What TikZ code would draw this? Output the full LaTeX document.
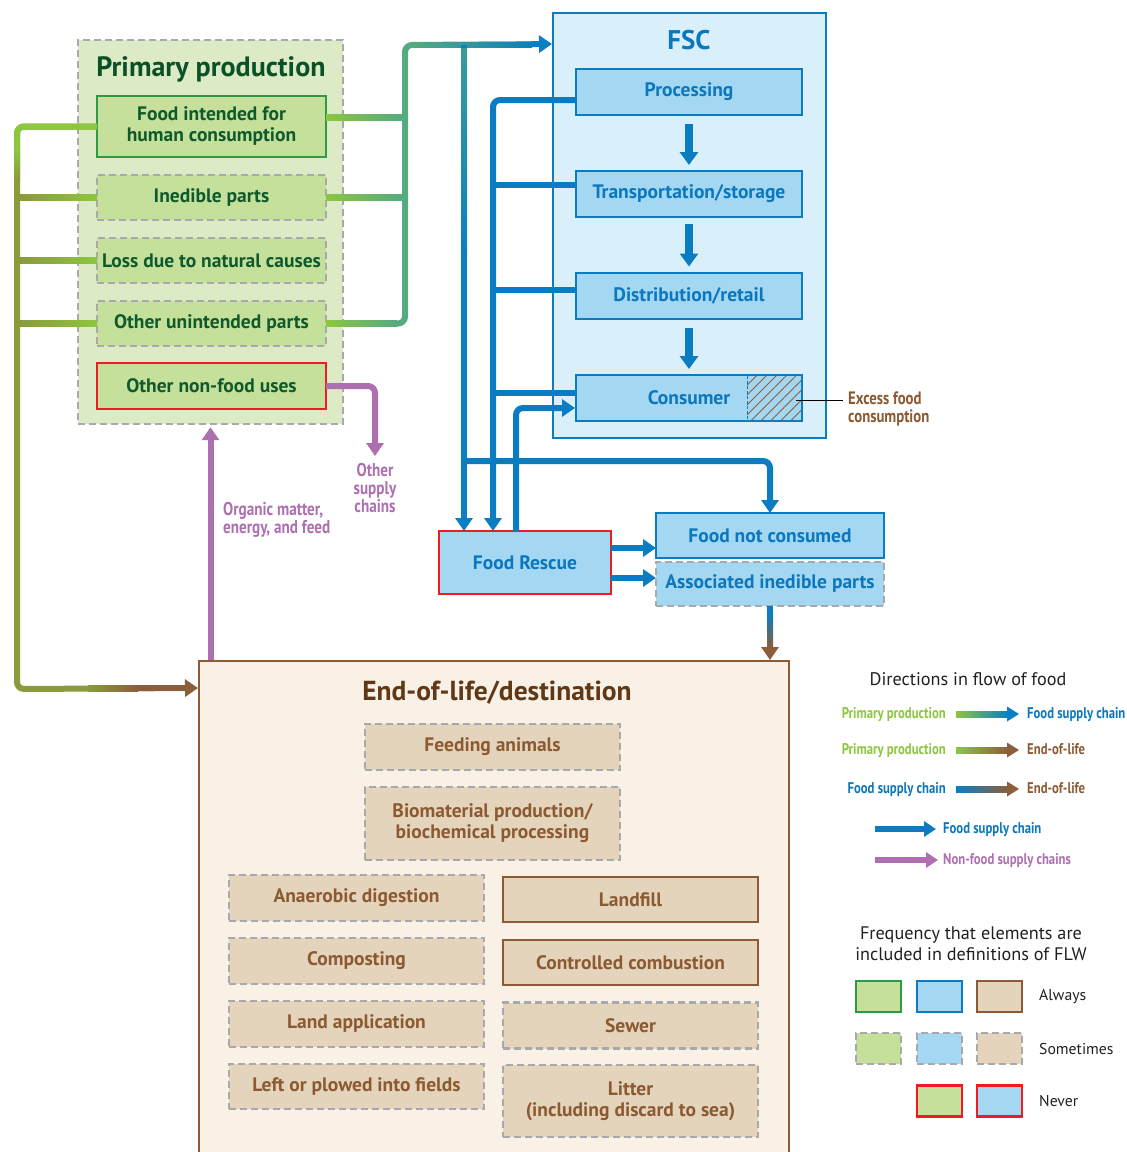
\documentclass[tikz,border=0pt]{standalone}
\usepackage{fontspec}
\setmainfont{PT Sans}
\newfontfamily\condf[FakeStretch=0.82]{PT Sans}
\usetikzlibrary{arrows.meta,calc,patterns.meta}
\definecolor{ppfill}{HTML}{DCEBC6}
\definecolor{ppinner}{HTML}{C5E09B}
\definecolor{ppdark}{HTML}{0E5A2C}
\definecolor{pptitle}{HTML}{0B5128}
\definecolor{grborder}{HTML}{2E9A46}
\definecolor{dgray}{HTML}{A7A9AC}
\definecolor{redc}{HTML}{ED1C24}
\definecolor{fscfill}{HTML}{D9F0FB}
\definecolor{fscinner}{HTML}{A3D7F2}
\definecolor{fscblue}{HTML}{0A7DC2}
\definecolor{fsctext}{HTML}{0A77BE}
\definecolor{eolfill}{HTML}{FAF1E6}
\definecolor{eolinner}{HTML}{E5D4BC}
\definecolor{eolborder}{HTML}{8C5B35}
\definecolor{eoltext}{HTML}{8B5A32}
\definecolor{eoltitle}{HTML}{5F3917}
\definecolor{lgreen}{HTML}{8DC63F}
\definecolor{olive}{HTML}{8A9A3C}
\definecolor{lbrown}{HTML}{8B5E3C}
\definecolor{sgreen}{HTML}{55AA80}
\definecolor{tealc}{HTML}{3A9C97}
\definecolor{flblue}{HTML}{0A7FC3}
\definecolor{purp}{HTML}{AD6FB0}
\definecolor{dtext}{HTML}{231F20}
\newcommand\legarr[4]{%
  \shade[left color=#3, right color=#4] ($(#1)+(0,-3)$) rectangle ($(#2)+(-11,3)$);
  \fill[#4] ($(#2)+(-12,-7.5)$) -- (#2) -- ($(#2)+(-12,7.5)$) -- cycle;}
\tikzset{
  lbl/.style={font=\bfseries\fontsize{19.5}{21}\selectfont, align=center, inner sep=0pt, outer sep=0pt},
  always/.style={draw=#1, line width=2pt},
  sometimes/.style={draw=dgray, line width=2.4pt, dash pattern=on 7pt off 4pt},
  never/.style={draw=redc, line width=2.4pt},
  ppb/.style={lbl, fill=ppinner, text=ppdark, minimum width=229pt, minimum height=45pt},
  fscb/.style={lbl, fill=fscinner, text=fsctext, minimum width=226pt, minimum height=46pt},
  eolb/.style={lbl, fill=eolinner, text=eoltext, minimum width=255pt, minimum height=46pt},
  flow/.style={line width=6pt},
  arr/.style={-{Triangle[length=13pt,width=17pt]}},
  arrc/.style={-{Triangle[length=13pt,width=17pt,color=#1]}},
  cond/.style={font=\condf\bfseries\fontsize{18.5}{18}\selectfont, inner sep=0pt},
  legl/.style={font=\condf\bfseries\fontsize{15.5}{18}\selectfont, inner sep=0pt, text height=11pt, text depth=3pt},
  legt/.style={font=\fontsize{18.2}{21}\selectfont, text=dtext, align=center, inner sep=0pt},
  legbox/.style={minimum width=45pt, minimum height=31pt, inner sep=0pt},
}
\begin{document}
\begin{tikzpicture}[x=1pt,y=-1pt]
\useasboundingbox (0,0) rectangle (1127,1152);
\clip (0,0) rectangle (1127,1152);

% ---------- Primary production ----------
\node[fill=ppfill, sometimes, minimum width=265pt, minimum height=384pt, inner sep=0pt] (pp) at (210.5,232) {};
\node[font=\bfseries\fontsize{28}{30}\selectfont, text=pptitle, inner sep=0pt] (pptitle) at (211,69) {Primary production};
\node[ppb, always=grborder, minimum height=61pt] (food) at (211.5,126.5) {Food intended for\\human consumption};
\node[ppb, sometimes] (inedible) at (211.5,197.5) {Inedible parts};
\node[ppb, sometimes] (loss) at (211.5,260.5) {Loss due to natural causes};
\node[ppb, sometimes] (otherun) at (211.5,323.5) {Other unintended parts};
\node[ppb, never, minimum height=46pt] (nonfood) at (211.5,386) {Other non-food uses};

% ---------- FSC ----------
\node[fill=fscfill, always=fscblue, minimum width=273pt, minimum height=425pt, inner sep=0pt] (fsc) at (689.5,225.5) {};
\node[font=\bfseries\fontsize{27}{30}\selectfont, text=fsctext, inner sep=0pt] (fsctitle) at (689,40) {FSC};
\node[fscb, always=fscblue] (proc) at (689,92) {Processing};
\node[fscb, always=fscblue] (trans) at (689,194) {Transportation/storage};
\node[fscb, always=fscblue] (dist) at (689,295.5) {Distribution/retail};
\node[fscb, always=fscblue] (cons) at (689,398) {Consumer};
\fill[pattern={Lines[angle=45,distance=7pt,line width=0.9pt]}, pattern color=lbrown]
  ($(cons.north east)+(-55,1)$) rectangle ($(cons.south east)+(-1,-1)$);
\draw[fscblue, line width=1pt, dash pattern=on 3pt off 2pt] ($(cons.north east)+(-55,1)$) -- ($(cons.south east)+(-55,-1)$);
\draw[line width=8pt, fscblue, -{Triangle[length=13pt,width=18pt]}] ($(proc.south)+(0,9)$) -- ($(trans.north)+(0,-6)$);
\draw[line width=8pt, fscblue, -{Triangle[length=13pt,width=18pt]}] ($(trans.south)+(0,7)$) -- ($(dist.north)+(0,-6)$);
\draw[line width=8pt, fscblue, -{Triangle[length=13pt,width=18pt]}] ($(dist.south)+(0,9)$) -- ($(cons.north)+(0,-6)$);
\coordinate (exc) at ($(cons.east)+(41,2)$);
\draw[black, line width=0.8pt] ($(cons.east)+(-6,2)$) -- (exc);
\node[cond, text=eoltext, align=left, anchor=west, font=\condf\bfseries\fontsize{18}{18}\selectfont] (excess) at ($(exc)+(5,9)$) {Excess food\\consumption};

% ---------- Food rescue etc ----------
\node[lbl, fill=fscinner, text=fsctext, never, minimum width=172pt, minimum height=63pt] (rescue) at (525,562.5) {Food Rescue};
\node[lbl, fill=fscinner, text=fsctext, always=fscblue, minimum width=228pt, minimum height=45pt] (notcons) at (770,535.5) {Food not consumed};
\node[lbl, fill=fscinner, text=fsctext, sometimes, minimum width=228pt, minimum height=44pt] (assoc) at (770,584) {Associated inedible parts};

% ---------- End-of-life ----------
\node[fill=eolfill, always=eolborder, minimum width=590pt, minimum height=500pt, inner sep=0pt] (eol) at (494,911) {};
\node[font=\bfseries\fontsize{27.5}{30}\selectfont, text=eoltitle, inner sep=0pt] (eoltitle) at (497,693) {End-of-life/destination};
\node[eolb, sometimes] (feed) at (492.5,747) {Feeding animals};
\node[eolb, sometimes, minimum height=73pt] (bio) at (492.5,823.5) {Biomaterial production/\\biochemical processing};
\node[eolb, sometimes] (anaer) at (356.5,898) {Anaerobic digestion};
\node[eolb, always=eolborder, minimum height=45pt] (landfill) at (630.5,899.5) {Landfill};
\node[eolb, sometimes] (compost) at (356.5,961) {Composting};
\node[eolb, always=eolborder, minimum height=45pt] (combust) at (630.5,962.5) {Controlled combustion};
\node[eolb, sometimes] (landapp) at (356.5,1024) {Land application};
\node[eolb, sometimes] (sewer) at (630.5,1025.5) {Sewer};
\node[eolb, sometimes, minimum height=45pt] (leftf) at (356.5,1086.5) {Left or plowed into fields};
\node[eolb, sometimes, minimum height=72pt] (litter) at (630.5,1101) {Litter\\(including discard to sea)};

% ---------- Left bus (primary production -> end-of-life) ----------
\coordinate (LT) at (17,126.5);
\coordinate (LB) at (17,689);
\coordinate (eolin) at ($(eol.north west)+(0,28)$);
\draw[flow, olive, rounded corners=7pt, arrc=lbrown] (food.west) -- (LT) -- (LB) -- (eolin);
\draw[flow, lgreen, rounded corners=7pt] (food.west) -- (LT) -- (17,150);
\shade[top color=lgreen, bottom color=olive] (14,150) rectangle (20,180);
\foreach \b in {inedible, loss, otherun}
  \shade[left color=olive, right color=lgreen] ($(LT |- \b.west)+(3,-3)$) rectangle ($(\b.west)+(0,3)$);
\shade[left color=olive, right color=lbrown] ($(eolin)+(-110,-3)$) rectangle ($(eolin)+(-60,3)$);
\fill[lbrown] ($(eolin)+(-60,-3)$) rectangle ($(eolin)+(-12,3)$);

% ---------- Right bus (primary production -> FSC) ----------
\coordinate (RT) at (405,45);
\coordinate (fscin) at ($(fsc.north west)+(0,32)$);
\coordinate (V1) at (464,45);
\draw[flow, sgreen, rounded corners=7pt, arrc=flblue] (otherun.east) -- (RT |- otherun.east) -- (RT) -- (fscin);
\draw[flow, sgreen] ($(food.east)+(0,-9.5)$) -- ($(RT |- food.east)+(0,-9.5)$);
\draw[flow, sgreen] (inedible.east) -- (RT |- inedible.east);
\shade[left color=lgreen, right color=sgreen] ($(food.east)+(0,-12.5)$) rectangle ($(RT |- food.east)+(-3,-6.5)$);
\shade[left color=lgreen, right color=sgreen] ($(inedible.east)+(0,-3)$) rectangle ($(RT |- inedible.east)+(-3,3)$);
\shade[left color=lgreen, right color=sgreen] ($(otherun.east)+(0,-3)$) rectangle ($(RT |- otherun.east)+(-8,3)$);
\shade[left color=sgreen, right color=flblue] ($(RT)+(7,-3)$) rectangle ($(fscin)+(-20,3)$);
\fill[flblue] ($(fscin)+(-21,-3)$) rectangle ($(fscin)+(-12,3)$);
\draw[flow, flblue, arr] (V1) -- (V1 |- rescue.north);
\shade[top color=tealc, bottom color=flblue] ($(V1)+(-3,3)$) rectangle ($(V1)+(3,210)$);

% ---------- Blue connectors ----------
\coordinate (B1) at (493,100);
\draw[flow, fscblue, rounded corners=7pt, arr] ($(proc.west)+(0,8)$) -- (B1) -- (B1 |- rescue.north);
\draw[flow, fscblue] ($(trans.west)+(0,-9)$) -- ($(B1 |- trans.west)+(0,-9)$);
\draw[flow, fscblue] ($(dist.west)+(0,-5.5)$) -- ($(B1 |- dist.west)+(0,-5.5)$);
\draw[flow, fscblue] ($(cons.west)+(0,-5)$) -- ($(B1 |- cons.west)+(0,-5)$);
\coordinate (R1) at ($(rescue.north west)+(77,0)$);
\draw[flow, fscblue, rounded corners=7pt, arr] (R1) -- ($(R1 |- cons.west)+(0,10)$) -- ($(cons.west)+(-1,10)$);
\coordinate (J) at (464,461);
\draw[flow, fscblue, rounded corners=7pt, arr] (J) -- (J -| notcons.north) -- (notcons.north);
\draw[flow, fscblue, arr] ($(rescue.east)+(0,-14.5)$) -- ($(notcons.west |- rescue.east)+(0,-14.5)$);
\draw[flow, fscblue, arr] ($(rescue.east)+(0,15.5)$) -- ($(assoc.west |- rescue.east)+(0,15.5)$);
\draw[flow, fscblue, arrc=lbrown] (assoc.south) -- (assoc.south |- eol.north);
\shade[top color=fscblue, bottom color=lbrown] ($(assoc.south)+(-3,8)$) rectangle ($(assoc.south |- eol.north)+(3,-12)$);

% ---------- Purple connectors ----------
\coordinate (P1) at (375,386);
\draw[flow, purp, rounded corners=7pt, arr] (nonfood.east) -- (P1) -- ($(P1)+(0,70)$);
\node[cond, text=purp, align=center] (othersc) at (375,488) {Other\\supply\\chains};
\draw[flow, purp, arr] (eol.north -| pp.south) -- ($(pp.south)+(0,2)$);
\node[cond, text=purp, align=left, anchor=west, font=\condf\bfseries\fontsize{18.5}{17}\selectfont] (organic) at (223,519.5) {Organic matter,\\energy, and feed};

% ---------- Legend: directions ----------
\node[legt] (dirt) at (968,679) {Directions in flow of food};
\node[legl, text=lgreen, anchor=east] (l1a) at (946,714) {Primary production};
\node[legl, text=fsctext, anchor=west] (l1b) at (1027,714) {Food supply chain};
\coordinate (a1s) at (956,714); \coordinate (a1e) at (1019,714);
\legarr{a1s}{a1e}{lgreen}{flblue}
\node[legl, text=lgreen, anchor=east] (l2a) at (946,750) {Primary production};
\node[legl, text=eoltext, anchor=west] (l2b) at (1027,750) {End-of-life};
\coordinate (a2s) at (956,750); \coordinate (a2e) at (1019,750);
\legarr{a2s}{a2e}{lgreen}{lbrown}
\node[legl, text=fsctext, anchor=east] (l3a) at (946,789) {Food supply chain};
\node[legl, text=eoltext, anchor=west] (l3b) at (1027,789) {End-of-life};
\coordinate (a3s) at (956,789); \coordinate (a3e) at (1019,789);
\legarr{a3s}{a3e}{flblue}{lbrown}
\coordinate (a4s) at (875,829); \coordinate (a4e) at (936,829);
\draw[flow, fscblue, -{Triangle[length=12pt,width=15pt]}] (a4s) -- (a4e);
\node[legl, text=fsctext, anchor=west] (l4) at (943,829) {Food supply chain};
\coordinate (a5s) at (875,860); \coordinate (a5e) at (938,860);
\draw[flow, purp, -{Triangle[length=12pt,width=15pt]}] (a5s) -- (a5e);
\node[legl, text=purp, anchor=west] (l5) at (943,860) {Non-food supply chains};

% ---------- Legend: frequency ----------
\node[legt] (freqt) at (971,943.5) {Frequency that elements are\\included in definitions of FLW};
\node[legbox, fill=ppinner, always=grborder] (g1) at (878.5,996.5) {};
\node[legbox, fill=fscinner, always=fscblue] (b1) at (939.5,996.5) {};
\node[legbox, fill=eolinner, always=eolborder] (c1) at (999.5,996.5) {};
\node[legbox, fill=ppinner, sometimes] (g2) at (878.5,1048.5) {};
\node[legbox, fill=fscinner, sometimes] (b2) at (939.5,1048.5) {};
\node[legbox, fill=eolinner, sometimes] (c2) at (999.5,1048.5) {};
\node[legbox, fill=ppinner, never] (g3) at (939.5,1101) {};
\node[legbox, fill=fscinner, never] (b3) at (999.5,1101) {};
\node[legt, anchor=west, font=\fontsize{15.7}{18}\selectfont] (alw) at (1039,997) {Always};
\node[legt, anchor=west, font=\fontsize{15.7}{18}\selectfont] (som) at (1039,1049) {Sometimes};
\node[legt, anchor=west, font=\fontsize{15.7}{18}\selectfont] (nev) at (1039,1101) {Never};
\end{tikzpicture}
\end{document}
